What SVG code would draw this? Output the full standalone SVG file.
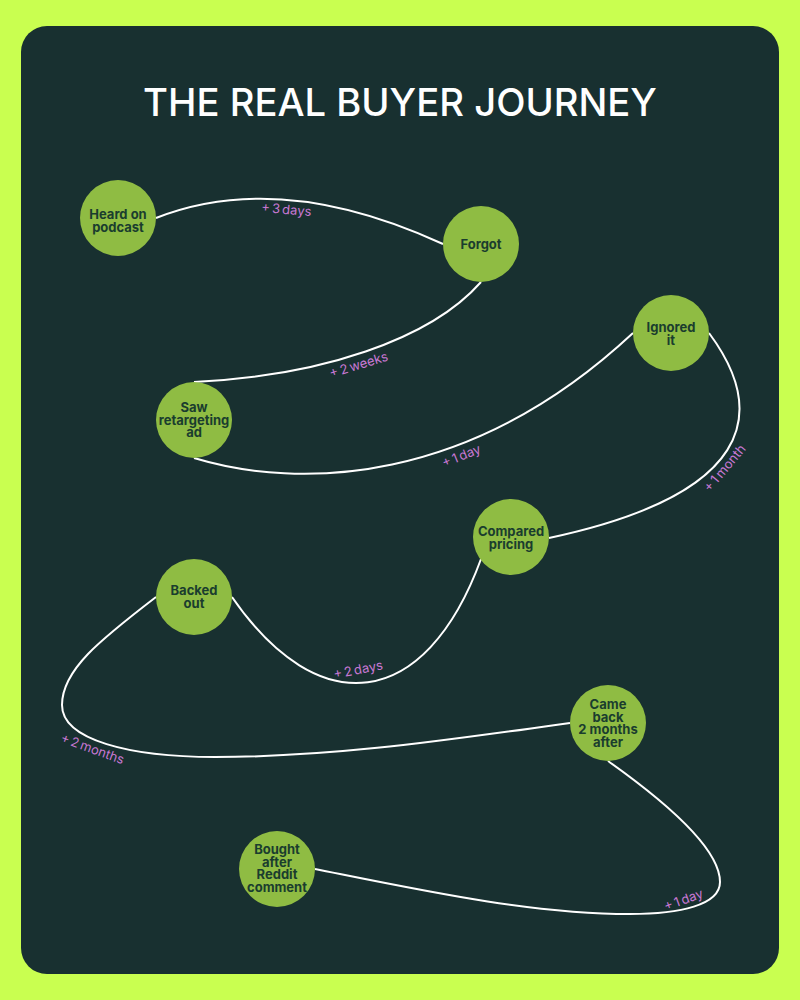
<svg xmlns="http://www.w3.org/2000/svg" width="800" height="1000" viewBox="0 0 800 1000">
<style>
.n{fill:#8fbc43}
.t{font-family:Inter,"Liberation Sans",sans-serif;font-weight:700;font-size:13px;fill:#1a3d2e;text-anchor:middle}
.l{font-family:Inter,"Liberation Sans",sans-serif;font-size:13px;word-spacing:-1.5px;fill:#c878d4;text-anchor:middle}
.c{fill:none;stroke:#fff;stroke-width:2}
</style>
<rect width="800" height="1000" fill="#c9ff50"/>
<rect x="21" y="26" width="758" height="948" rx="26" fill="#183030"/>
<text x="400" y="116" text-anchor="middle" font-family="Inter,'Liberation Sans',sans-serif" font-weight="500" font-size="38.2" fill="#fff">THE REAL BUYER JOURNEY</text>
<g id="connectors">
<path class="c" d="M156,218C235,187 330,192 443,244"/>
<path class="c" d="M481,282C430,340 320,376 194,382"/>
<path class="c" d="M194,458C300,490 470,485 633,333"/>
<path class="c" d="M709,333C770,415 750,495 549,538"/>
<path class="c" d="M481,559C425,712 318,722 232,597"/>
<path class="c" d="M156,597C100,640 62,670 62,705C62,740 130,757 215,757C340,757 460,738 570,723"/>
<path class="c" d="M608,761C670,805 720,850 720,882C720,905 680,914 630,914C530,914 420,890 315,869"/>
</g>
<g id="edge-labels">
<text class="l" transform="translate(286,214) rotate(5)">+ 3 days</text>
<text class="l" transform="translate(360,369) rotate(-17)">+ 2 weeks</text>
<text class="l" transform="translate(463,460) rotate(-22)">+ 1 day</text>
<text class="l" transform="translate(728,471) rotate(-50)">+ 1 month</text>
<text class="l" transform="translate(359,674) rotate(-11)">+ 2 days</text>
<text class="l" transform="translate(91,753) rotate(20)">+ 2 months</text>
<text class="l" transform="translate(685,904) rotate(-20)">+ 1 day</text>
</g>
<g id="n1"><circle class="n" cx="118" cy="218" r="38"/><text class="t"><tspan x="118" y="219">Heard on</tspan><tspan x="118" y="231.5">podcast</tspan></text></g>
<g id="n2"><circle class="n" cx="481" cy="244" r="38"/><text class="t" x="481" y="249">Forgot</text></g>
<g id="n3"><circle class="n" cx="194" cy="420" r="38"/><text class="t"><tspan x="194" y="412">Saw</tspan><tspan x="194" y="424.5">retargeting</tspan><tspan x="194" y="437">ad</tspan></text></g>
<g id="n4"><circle class="n" cx="671" cy="333" r="38"/><text class="t"><tspan x="671" y="332">Ignored</tspan><tspan x="671" y="344.5">it</tspan></text></g>
<g id="n5"><circle class="n" cx="511" cy="537" r="38"/><text class="t"><tspan x="511" y="536">Compared</tspan><tspan x="511" y="548.5">pricing</tspan></text></g>
<g id="n6"><circle class="n" cx="194" cy="597" r="38"/><text class="t"><tspan x="194" y="595">Backed</tspan><tspan x="194" y="608">out</tspan></text></g>
<g id="n7"><circle class="n" cx="608" cy="723" r="38"/><text class="t"><tspan x="608" y="709">Came</tspan><tspan x="608" y="721.5">back</tspan><tspan x="608" y="734">2 months</tspan><tspan x="608" y="746.5">after</tspan></text></g>
<g id="n8"><circle class="n" cx="277" cy="869" r="38"/><text class="t"><tspan x="277" y="854">Bought</tspan><tspan x="277" y="866.5">after</tspan><tspan x="277" y="879">Reddit</tspan><tspan x="277" y="891.5">comment</tspan></text></g>
</svg>
